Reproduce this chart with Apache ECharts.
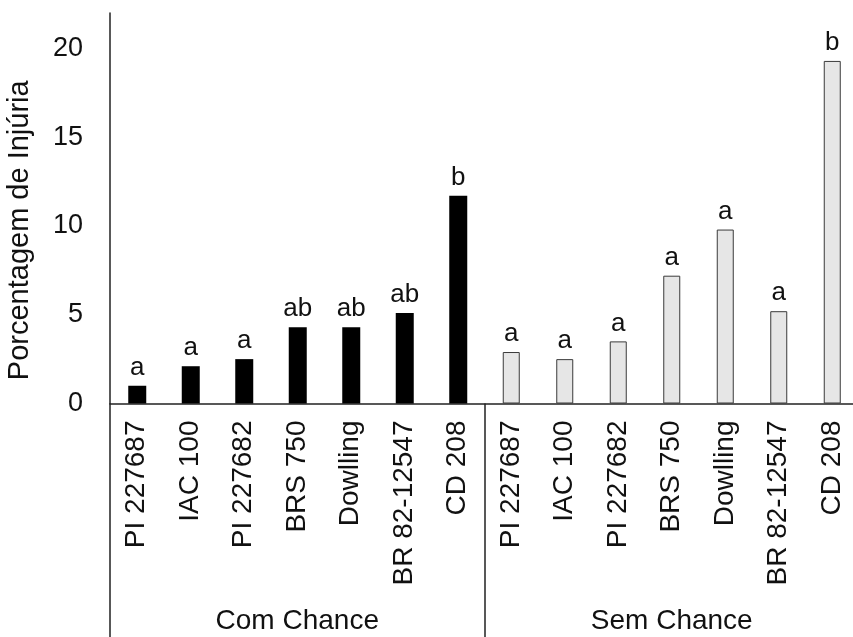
<!DOCTYPE html>
<html>
<head>
<meta charset="utf-8">
<script src="https://cdn.jsdelivr.net/npm/echarts@6/dist/echarts.min.js"></script>
<style>
  html, body { margin: 0; padding: 0; background: #fff; }
  #chart { width: 853px; height: 637px; }
</style>
</head>
<body>
<div id="chart"></div>
<script>
// Genotypes, repeated for each treatment group
const genotypes = ['PI 227687', 'IAC 100', 'PI 227682', 'BRS 750', 'Dowlling', 'BR 82-12547', 'CD 208'];
const groups = ['Com Chance', 'Sem Chance'];

// Injury percentage per genotype
const comChance = [1.0, 2.1, 2.5, 4.3, 4.3, 5.1, 11.7];
const semChance = [2.9, 2.5, 3.5, 7.2, 9.8, 5.2, 19.3];

// Mean separation letters
const comLetters = ['a', 'a', 'a', 'ab', 'ab', 'ab', 'b'];
const semLetters = ['a', 'a', 'a', 'a', 'a', 'a', 'b'];

const yTicks = [0, 5, 10, 15, 20];

const FONT = "'Liberation Sans', Arial, sans-serif";
const TEXT = '#111';

const categories = genotypes.concat(genotypes);
const blank = genotypes.map(() => '-');
const comData = comChance.concat(blank);
const semData = blank.concat(semChance);
const letters = comLetters.concat(semLetters);

const chart = echarts.init(document.getElementById('chart'), null, { renderer: 'canvas' });

chart.setOption({
  animation: false,
  backgroundColor: '#fff',
  grid: {
    left: 110, top: 13, width: 749, height: 390.5,
    containLabel: false,
    outerBoundsMode: 'none'
  },
  xAxis: [
    {
      type: 'category',
      data: categories,
      position: 'bottom',
      axisLine: { show: true, lineStyle: { color: '#222', width: 1.5 } },
      axisTick: { show: false },
      axisLabel: {
        interval: 0,
        rotate: 90,
        margin: 17,
        fontFamily: FONT,
        fontSize: 28,
        color: TEXT
      }
    },
    {
      type: 'category',
      data: groups,
      position: 'bottom',
      axisLine: { show: false },
      axisTick: {
        show: true,
        interval: 0,
        length: 235,
        lineStyle: { color: '#222', width: 1.5 }
      },
      axisLabel: {
        interval: 0,
        margin: 204,
        fontFamily: FONT,
        fontSize: 28,
        color: TEXT
      }
    }
  ],
  yAxis: {
    type: 'value',
    min: 0,
    max: 22,
    interval: 5,
    name: 'Porcentagem de Injúria',
    nameLocation: 'middle',
    nameGap: 76,
    nameTextStyle: {
      fontFamily: FONT,
      fontSize: 29,
      color: TEXT,
      padding: [0, 44, 0, 0]
    },
    splitLine: { show: false },
    axisTick: { show: false },
    axisLine: { show: true, lineStyle: { color: '#222', width: 1.5 } },
    axisLabel: {
      margin: 27,
      fontFamily: FONT,
      fontSize: 27,
      color: TEXT,
      showMaxLabel: false,
      formatter: v => (yTicks.indexOf(v) >= 0 ? String(v) : '')
    }
  },
  series: [
    {
      name: groups[0],
      type: 'bar',
      xAxisIndex: 0,
      data: comData,
      barWidth: 18,
      barGap: '-100%',
      itemStyle: { color: '#000' },
      label: {
        show: true,
        position: 'top',
        distance: 5,
        fontFamily: FONT,
        fontSize: 26,
        color: TEXT,
        formatter: p => letters[p.dataIndex]
      }
    },
    {
      name: groups[1],
      type: 'bar',
      xAxisIndex: 0,
      data: semData,
      barWidth: 17,
      barGap: '-100%',
      itemStyle: { color: '#e6e6e6', borderColor: '#3a3a3a', borderWidth: 1 },
      label: {
        show: true,
        position: 'top',
        distance: 5,
        fontFamily: FONT,
        fontSize: 26,
        color: TEXT,
        formatter: p => letters[p.dataIndex]
      }
    }
  ]
});
</script>
</body>
</html>
